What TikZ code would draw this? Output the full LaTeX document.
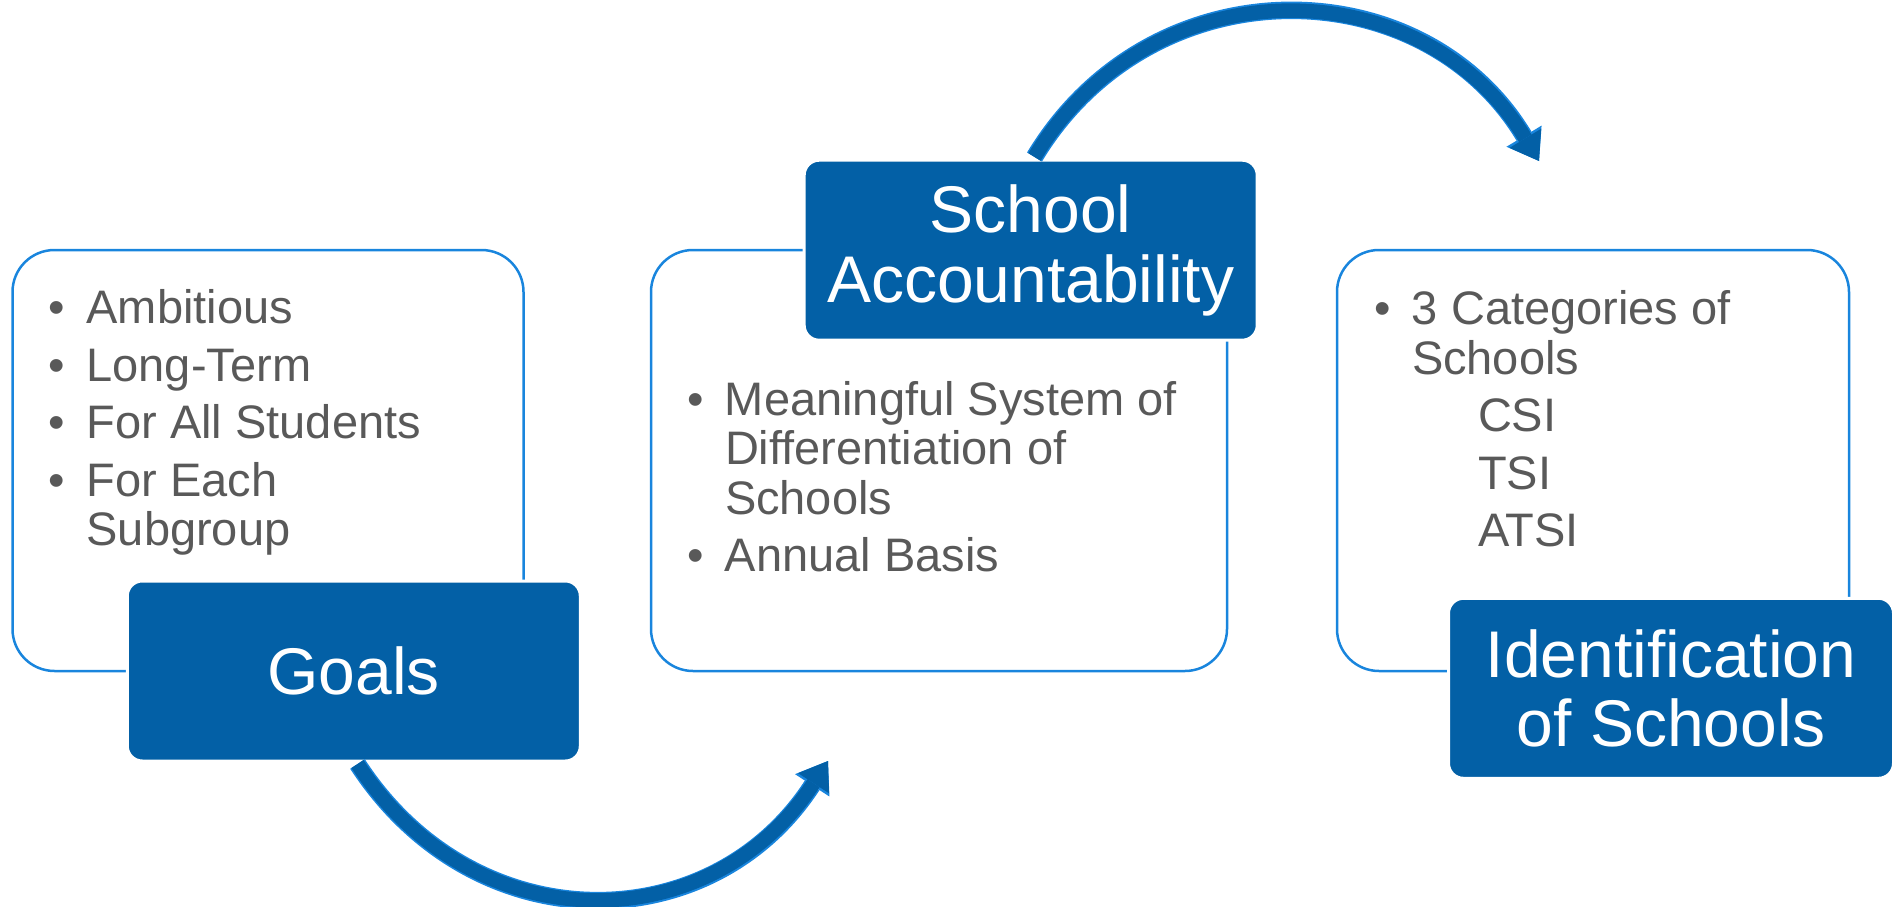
\documentclass[tikz,border=0pt]{standalone}
\usepackage{fontspec}
\setmainfont{Liberation Sans}
\usetikzlibrary{arrows.meta}
\definecolor{darkblue}{RGB}{3,96,166}
\definecolor{lineblue}{RGB}{25,133,221}
\definecolor{txtgray}{RGB}{89,89,89}
\newcommand\blt[1]{\par\hangindent=38pt\hangafter=1\noindent\makebox[38pt][l]{\textbullet}#1\par}
\newcommand\subit[1]{\par\noindent\hspace*{104pt}#1\par}
\begin{document}
\begin{tikzpicture}[x=1pt,y=-1pt,
    outbox/.style={draw=lineblue,line width=2.5pt,rounded corners=42pt,minimum height=421pt},
    headbox/.style={fill=darkblue,draw=white,line width=3pt,rounded corners=15pt,minimum width=453pt,
      minimum height=180pt,text=white,align=center,font=\fontsize{66}{69.5}\selectfont},
    bultxt/.style={anchor=base west,inner sep=0pt,text=txtgray,font=\fontsize{47}{49.5}\selectfont},
    arrback/.style={line width=17.5pt,lineblue,-{Triangle[width=41pt,length=29pt,line width=0pt]}},
    arrfront/.style={line width=14.5pt,darkblue,-{Triangle[width=37pt,length=26.5pt,line width=0pt]}}]
    \useasboundingbox (0,0) rectangle (1893,907);
    \node[outbox,minimum width=511pt] (goalsout) at (268,460.5) {};
    \node[outbox,minimum width=576pt] (schoolout) at (939,460.5) {};
    \node[outbox,minimum width=512pt] (identout) at (1593,460.5) {};
    \node[headbox] (goals) at (353.8,671) {Goals};
    \node[headbox] (school) at (1030.7,250.2) {School\\Accountability};
    \node[headbox,minimum width=445pt] (ident) at (1671,688.3) {Identification\\of Schools};
    \node[bultxt] (goalstxt) at (48.4,323.7) {\vtop{\hsize=440pt\raggedright\parskip=8pt
      \blt{Ambitious}\blt{Long-Term}\blt{For All Students}\blt{For Each\newline Subgroup}}};
    \node[bultxt] (schooltxt) at (686.8,415.4) {\vtop{\hsize=520pt\raggedright\parskip=8pt
      \blt{Meaningful System of\newline Differentiation of\newline Schools}\blt{Annual Basis}}};
    \node[bultxt] (identtxt) at (1373.8,324.6) {\vtop{\hsize=440pt\raggedright\parskip=8pt
      \blt{3 Categories of\newline Schools}\subit{CSI}\subit{TSI}\subit{ATSI}}};
    \coordinate (a1s) at (357.5,764);\coordinate (a1e) at (828,761);
    \coordinate (a2s) at (1034.5,157);\coordinate (a2e) at (1539,161);
    \foreach \s in {arrback,arrfront}{
      \draw[\s] (a1s) .. controls +(117,180) and +(-117,180) .. (a1e);
      \draw[\s] (a2s) .. controls +(117,-194) and +(-117,-194) .. (a2e);}
\end{tikzpicture}
\end{document}
